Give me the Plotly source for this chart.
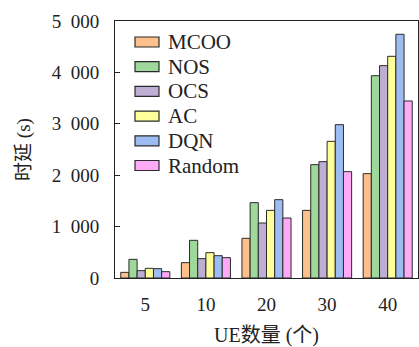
import plotly.graph_objects as go

categories = ["5", "10", "20", "30", "40"]
series_names = ["MCOO", "NOS", "OCS", "AC", "DQN", "Random"]
mcoo = [110, 298, 772, 1316, 2030]
nos = [363, 733, 1466, 2205, 3936]
ocs = [143, 376, 1070, 2263, 4131]
ac = [188, 493, 1316, 2659, 4313]
dqn = [182, 434, 1524, 2983, 4741]
rnd = [123, 396, 1167, 2069, 3444]
colors = ["#FDC08C", "#9FD89B", "#BEAED4", "#FFFF99", "#9DBDF2", "#FFAAF7"]
y_ticks = [0, 1000, 2000, 3000, 4000, 5000]
y_tick_text = ["0", "1\u2002000", "2\u2002000", "3\u2002000", "4\u2002000", "5\u2002000"]

font_family = "Liberation Serif, DejaVu Serif, Noto Sans CJK SC, serif"
W, H = 419, 347
ML, MR, MT, MB = 115, 1, 21, 69
pw, ph = W - ML - MR, H - MT - MB

fig = go.Figure()
for name, vals, col in zip(series_names, [mcoo, nos, ocs, ac, dqn, rnd], colors):
    fig.add_trace(go.Bar(
        x=categories, y=vals, name=name,
        marker=dict(color=col, line=dict(color="#2a2a2a", width=1)),
    ))

# compact legend drawn like the reference
shapes, annotations = [], []
for i, (name, col) in enumerate(zip(series_names, colors)):
    yc = 42 + 24.7 * i
    yp = 1 - (yc - MT) / ph
    shapes.append(dict(
        type="rect", xref="paper", yref="paper",
        x0=(135 - ML) / pw, x1=(159 - ML) / pw,
        y0=yp - 5 / ph, y1=yp + 5 / ph,
        fillcolor=col, line=dict(color="#2a2a2a", width=1.2),
    ))
    annotations.append(dict(
        xref="paper", yref="paper", x=(166 - ML) / pw, y=yp,
        xanchor="left", yanchor="middle", showarrow=False,
        text=name, font=dict(size=21, family=font_family, color="#222222"),
    ))

# x-axis title placed under the tick labels
annotations.append(dict(
    xref="paper", yref="paper", x=0.5, y=-(335 - (MT + ph)) / ph,
    xanchor="center", yanchor="middle", showarrow=False,
    text="UE数量 (个)", font=dict(size=20, family=font_family, color="#222222"),
))

fig.update_layout(
    width=W, height=H,
    margin=dict(l=ML, r=MR, t=MT, b=MB, pad=0),
    paper_bgcolor="white", plot_bgcolor="white",
    barmode="group", bargap=0.19, bargroupgap=0,
    font=dict(family=font_family, size=19, color="#222222"),
    showlegend=False,
    shapes=shapes, annotations=annotations,
    xaxis=dict(
        type="category", range=[-0.5, 4.5],
        showline=True, linecolor="#222222", linewidth=1, mirror=True,
        ticks="", showgrid=False,
        tickfont=dict(size=19), ticklabelstandoff=9,
    ),
    yaxis=dict(
        range=[0, 5000],
        tickvals=y_ticks, ticktext=y_tick_text,
        showline=True, linecolor="#222222", linewidth=1, mirror=True,
        ticks="inside", ticklen=5, tickcolor="#222222",
        showgrid=False, zeroline=False,
        tickfont=dict(size=19), ticklabelstandoff=11,
        title=dict(text="时延 (s)", font=dict(size=19), standoff=16),
    ),
)

fig.write_html("out.html", config={"displayModeBar": False},
               post_script="document.body.style.margin='0px';")
